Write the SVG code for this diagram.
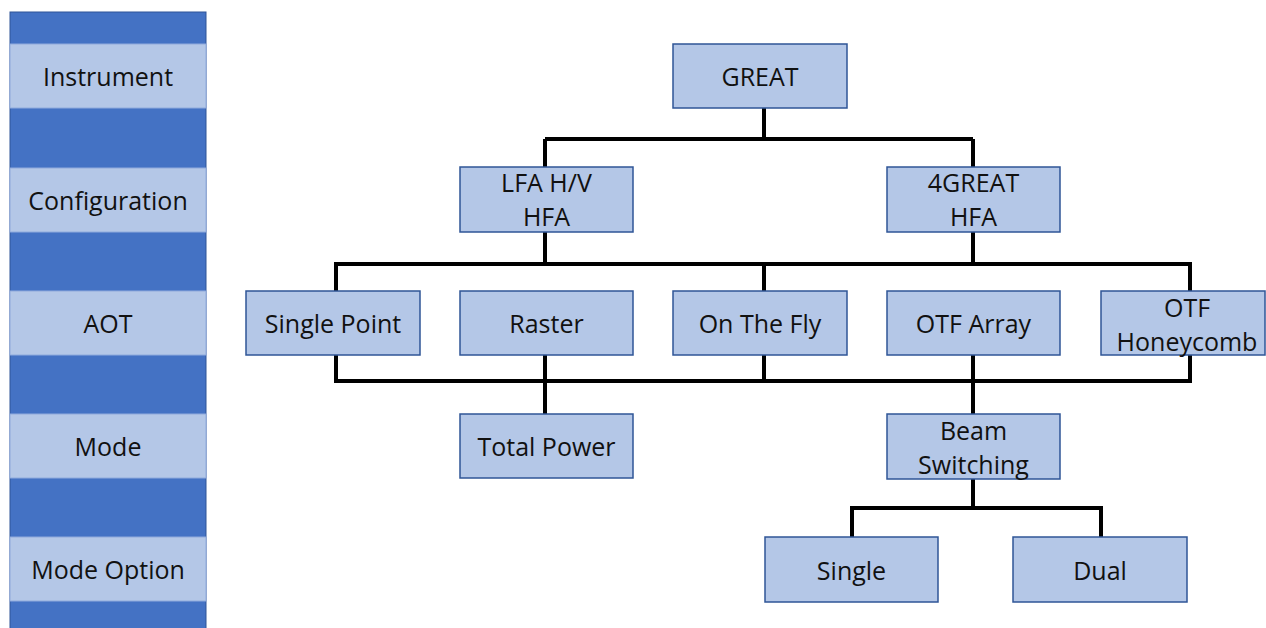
<svg xmlns="http://www.w3.org/2000/svg" width="1266" height="628" viewBox="0 0 1266 628">
<style>
.band{fill:#4472C4;stroke:#2F5597;stroke-width:1}
.lev{fill:#B4C7E7;stroke:#8FAADC;stroke-width:1}
.box{fill:#B4C7E7;stroke:#2F5597;stroke-width:1.5}
text{font-family:"Open Sans","Noto Sans",sans-serif;font-size:25px;fill:#111;text-anchor:middle}
.ln{fill:none;stroke:#000;stroke-width:4;stroke-linejoin:miter}
</style>
<rect width="1266" height="628" fill="#fff"/>
<g id="levels">
<rect class="band" x="10" y="12" width="196" height="630"/>
<g id="lvl-instrument"><rect class="lev" x="10" y="44" width="196" height="64"/><text x="108" y="86">Instrument</text></g>
<g id="lvl-configuration"><rect class="lev" x="10" y="168" width="196" height="64"/><text x="108" y="210">Configuration</text></g>
<g id="lvl-aot"><rect class="lev" x="10" y="291" width="196" height="64"/><text x="108" y="333">AOT</text></g>
<g id="lvl-mode"><rect class="lev" x="10" y="414" width="196" height="64"/><text x="108" y="456">Mode</text></g>
<g id="lvl-modeoption"><rect class="lev" x="10" y="537" width="196" height="64"/><text x="108" y="579">Mode Option</text></g>
</g>
<g id="connectors">
<path class="ln" d="M764 108V139M545 139H973M545 139V167M973 139V167"/>
<path class="ln" d="M545 232V264M973 232V264M336 291V264H1190V291M764 264V291"/>
<path class="ln" d="M336 355V381H1190V355M545 355V414M764 355V381M973 355V414"/>
<path class="ln" d="M973 479V508M852 537V508H1101V537"/>
</g>
<g id="n-great"><rect class="box" x="673" y="44" width="174" height="64"/><text x="760" y="86">GREAT</text></g>
<g id="n-lfa"><rect class="box" x="460" y="167" width="173" height="65"/><text x="546.5" y="192">LFA H/V</text><text x="546.5" y="226">HFA</text></g>
<g id="n-4great"><rect class="box" x="887" y="167" width="173" height="65"/><text x="973.5" y="192">4GREAT</text><text x="973.5" y="226">HFA</text></g>
<g id="n-singlepoint"><rect class="box" x="246" y="291" width="174" height="64"/><text x="333" y="333">Single Point</text></g>
<g id="n-raster"><rect class="box" x="460" y="291" width="173" height="64"/><text x="546.5" y="333">Raster</text></g>
<g id="n-otf"><rect class="box" x="673" y="291" width="174" height="64"/><text x="760" y="333">On The Fly</text></g>
<g id="n-otfarray"><rect class="box" x="887" y="291" width="173" height="64"/><text x="973.5" y="333">OTF Array</text></g>
<g id="n-otfhoney"><rect class="box" x="1101" y="291" width="164" height="64"/><text x="1187" y="317">OTF</text><text x="1187" y="351">Honeycomb</text></g>
<g id="n-totalpower"><rect class="box" x="460" y="414" width="173" height="64"/><text x="546.5" y="456">Total Power</text></g>
<g id="n-beam"><rect class="box" x="887" y="414" width="173" height="65"/><text x="973.5" y="440">Beam</text><text x="973.5" y="474">Switching</text></g>
<g id="n-single"><rect class="box" x="765" y="537" width="173" height="65"/><text x="851.5" y="580">Single</text></g>
<g id="n-dual"><rect class="box" x="1013" y="537" width="174" height="65"/><text x="1100" y="580">Dual</text></g>
</svg>
